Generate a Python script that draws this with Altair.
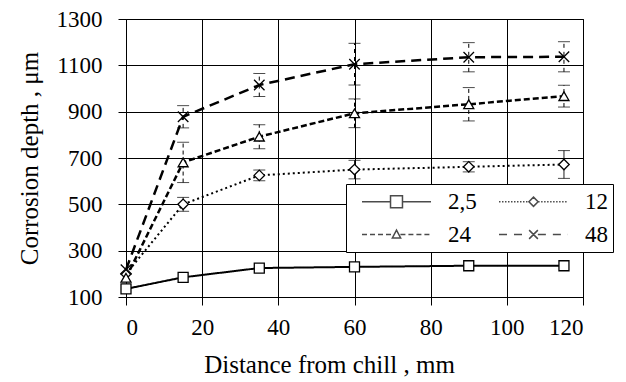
import altair as alt
import pandas as pd

# ---- data ----
distance = [0, 15, 35, 60, 90, 115]
series_names = ["2,5", "12", "24", "48"]
depth_2_5 = [135, 185, 225, 230, 235, 235]
depth_12 = [200, 500, 625, 650, 662, 672]
depth_24 = [183, 681, 792, 893, 932, 967]
depth_48 = [218, 878, 1015, 1105, 1135, 1137]
err_2_5 = [0, 0, 0, 0, 0, 0]
err_12 = [0, 30, 23, 40, 22, 60]
err_24 = [0, 87, 52, 62, 72, 47]
err_48 = [0, 48, 50, 90, 63, 65]

y_ticks = [100, 300, 500, 700, 900, 1100, 1300]
x_ticks = [0, 20, 40, 60, 80, 100, 120]

values = {"2,5": depth_2_5, "12": depth_12, "24": depth_24, "48": depth_48}
errors = {"2,5": err_2_5, "12": err_12, "24": err_24, "48": err_48}

rows = []
for s in series_names:
    for x, v, e in zip(distance, values[s], errors[s]):
        rows.append({"series": s, "x": x, "y": v,
                     "lo": v - e, "hi": v + e, "err": e})
df = pd.DataFrame(rows)

FONT = "Liberation Serif"

dash = {"2,5": [1, 0], "12": [2, 3], "24": [6, 3], "48": [10, 6]}
width = {"2,5": 2, "12": 2, "24": 2.5, "48": 2.5}
cap_dash = {"2,5": [1, 0], "12": [1, 0], "24": [4, 3], "48": [4, 4]}
shape = {"2,5": "square", "12": "diamond", "24": "triangle-up",
         "48": "M-1,-1L1,1M1,-1L-1,1"}
msize = {"2,5": 100, "12": 110, "24": 100, "48": 110}

axis_font = dict(labelFont=FONT, labelFontSize=23, labelColor="black",
                 titleFont=FONT, titleFontSize=25, titleFontWeight="normal",
                 titleColor="black", format="d")
x_enc = alt.X("x:Q", scale=alt.Scale(domain=[0, 120], nice=False),
              axis=alt.Axis(values=x_ticks, title="Distance from chill , mm",
                            titleX=203, titleY=75, titleBaseline="alphabetic",
                            labelPadding=11, **axis_font))
y_enc = alt.Y("y:Q", scale=alt.Scale(domain=[100, 1300], nice=False),
              axis=alt.Axis(values=y_ticks, title="Corrosion depth , μm",
                            titleX=-89, titleBaseline="alphabetic",
                            labelPadding=16, **axis_font))

base = alt.Chart(df)
layers = []
for s in series_names:
    layers.append(
        base.transform_filter(alt.datum.series == s)
        .mark_line(color="black", strokeDash=dash[s], strokeWidth=width[s])
        .encode(x=x_enc, y=y_enc)
    )
for s in series_names:
    eb = base.transform_filter((alt.datum.series == s) & (alt.datum.err > 0))
    layers.append(
        eb.mark_rule(color="black", strokeWidth=1, strokeDash=cap_dash[s])
        .encode(x="x:Q", y="lo:Q", y2="hi:Q")
    )
    layers.append(
        eb.mark_tick(color="black", orient="horizontal", size=12, thickness=1,
                     strokeDash=cap_dash[s])
        .encode(x="x:Q", y="lo:Q")
    )
    layers.append(
        eb.mark_tick(color="black", orient="horizontal", size=12, thickness=1,
                     strokeDash=cap_dash[s])
        .encode(x="x:Q", y="hi:Q")
    )
for s in series_names:
    layers.append(
        base.transform_filter(alt.datum.series == s)
        .mark_point(shape=shape[s], size=msize[s], filled=False,
                    fill="white", fillOpacity=1, stroke="black", strokeWidth=1.3,
                    opacity=1)
        .encode(x="x:Q", y="y:Q")
    )

# ---- legend: one symbol path per series = dashed line + marker ----
SYM = 529            # symbol size -> 1 path unit = sqrt(SYM)/2 = 11.5 px
UNIT = 11.5
legend_dash = {"2,5": None, "12": [1.5, 1.5], "24": [5, 3], "48": [8, 7]}
legend_marker = {
    "2,5": ("M1.48,-0.52H2.52V0.52H1.48Z", 1.48, 2.52),
    "12": ("M2,-0.4L2.4,0L2,0.4L1.6,0Z", 1.6, 2.4),
    "24": ("M2,-0.38L2.36,0.3H1.64Z", 1.66, 2.34),
    "48": ("M1.62,-0.38L2.38,0.38M2.38,-0.38L1.62,0.38", 1.62, 2.38),
}


def seg_path(x0, x1, pattern):
    if pattern is None:
        return f"M{x0:.3f},0H{x1:.3f}"
    d, g = pattern[0] / UNIT, pattern[1] / UNIT
    out, pos = [], x0
    while pos < x1 - 1e-6:
        end = min(pos + d, x1)
        out.append(f"M{pos:.3f},0H{end:.3f}")
        pos = end + g
    return "".join(out)


legend_paths = []
for s in series_names:
    mk, gl, gr = legend_marker[s]
    legend_paths.append(seg_path(-1.0, gl, legend_dash[s]) +
                        seg_path(gr, 5.0, legend_dash[s]) + mk)

legend_layer = (
    base.transform_filter("false")
    .mark_point(color="black")
    .encode(
        x="x:Q", y="y:Q",
        shape=alt.Shape(
            "series:N",
            scale=alt.Scale(domain=series_names, range=legend_paths),
            legend=alt.Legend(
                orient="none", legendX=220, legendY=165, columns=2, title=None,
                direction="horizontal", symbolSize=SYM, symbolStrokeWidth=1.5,
                symbolStrokeColor="black", symbolFillColor="white",
                symbolOffset=10, labelOffset=62, labelFont=FONT,
                labelFontSize=23, labelColor="black",
                labelExpr="datum.label + '\u00a0\u00a0\u00a0'",
                columnPadding=11, rowPadding=8, padding=5, labelLimit=250,
                strokeColor="black", fillColor="white")),
    )
)
layers.append(legend_layer)

chart = (
    alt.layer(*layers)
    .properties(width=457, height=278,
                autosize=alt.AutoSizeParams(type="none"),
                padding={"left": 126, "top": 19, "right": 43, "bottom": 85},
                background="white")
    .configure_view(stroke="black", strokeWidth=1)
    .configure_axis(grid=True, gridColor="black", gridOpacity=1, gridWidth=1,
                    domainColor="black", domainWidth=1, tickColor="black",
                    tickSize=8, tickWidth=1)
)

chart.save("out.html", embed_options={"renderer": "svg", "actions": False})
